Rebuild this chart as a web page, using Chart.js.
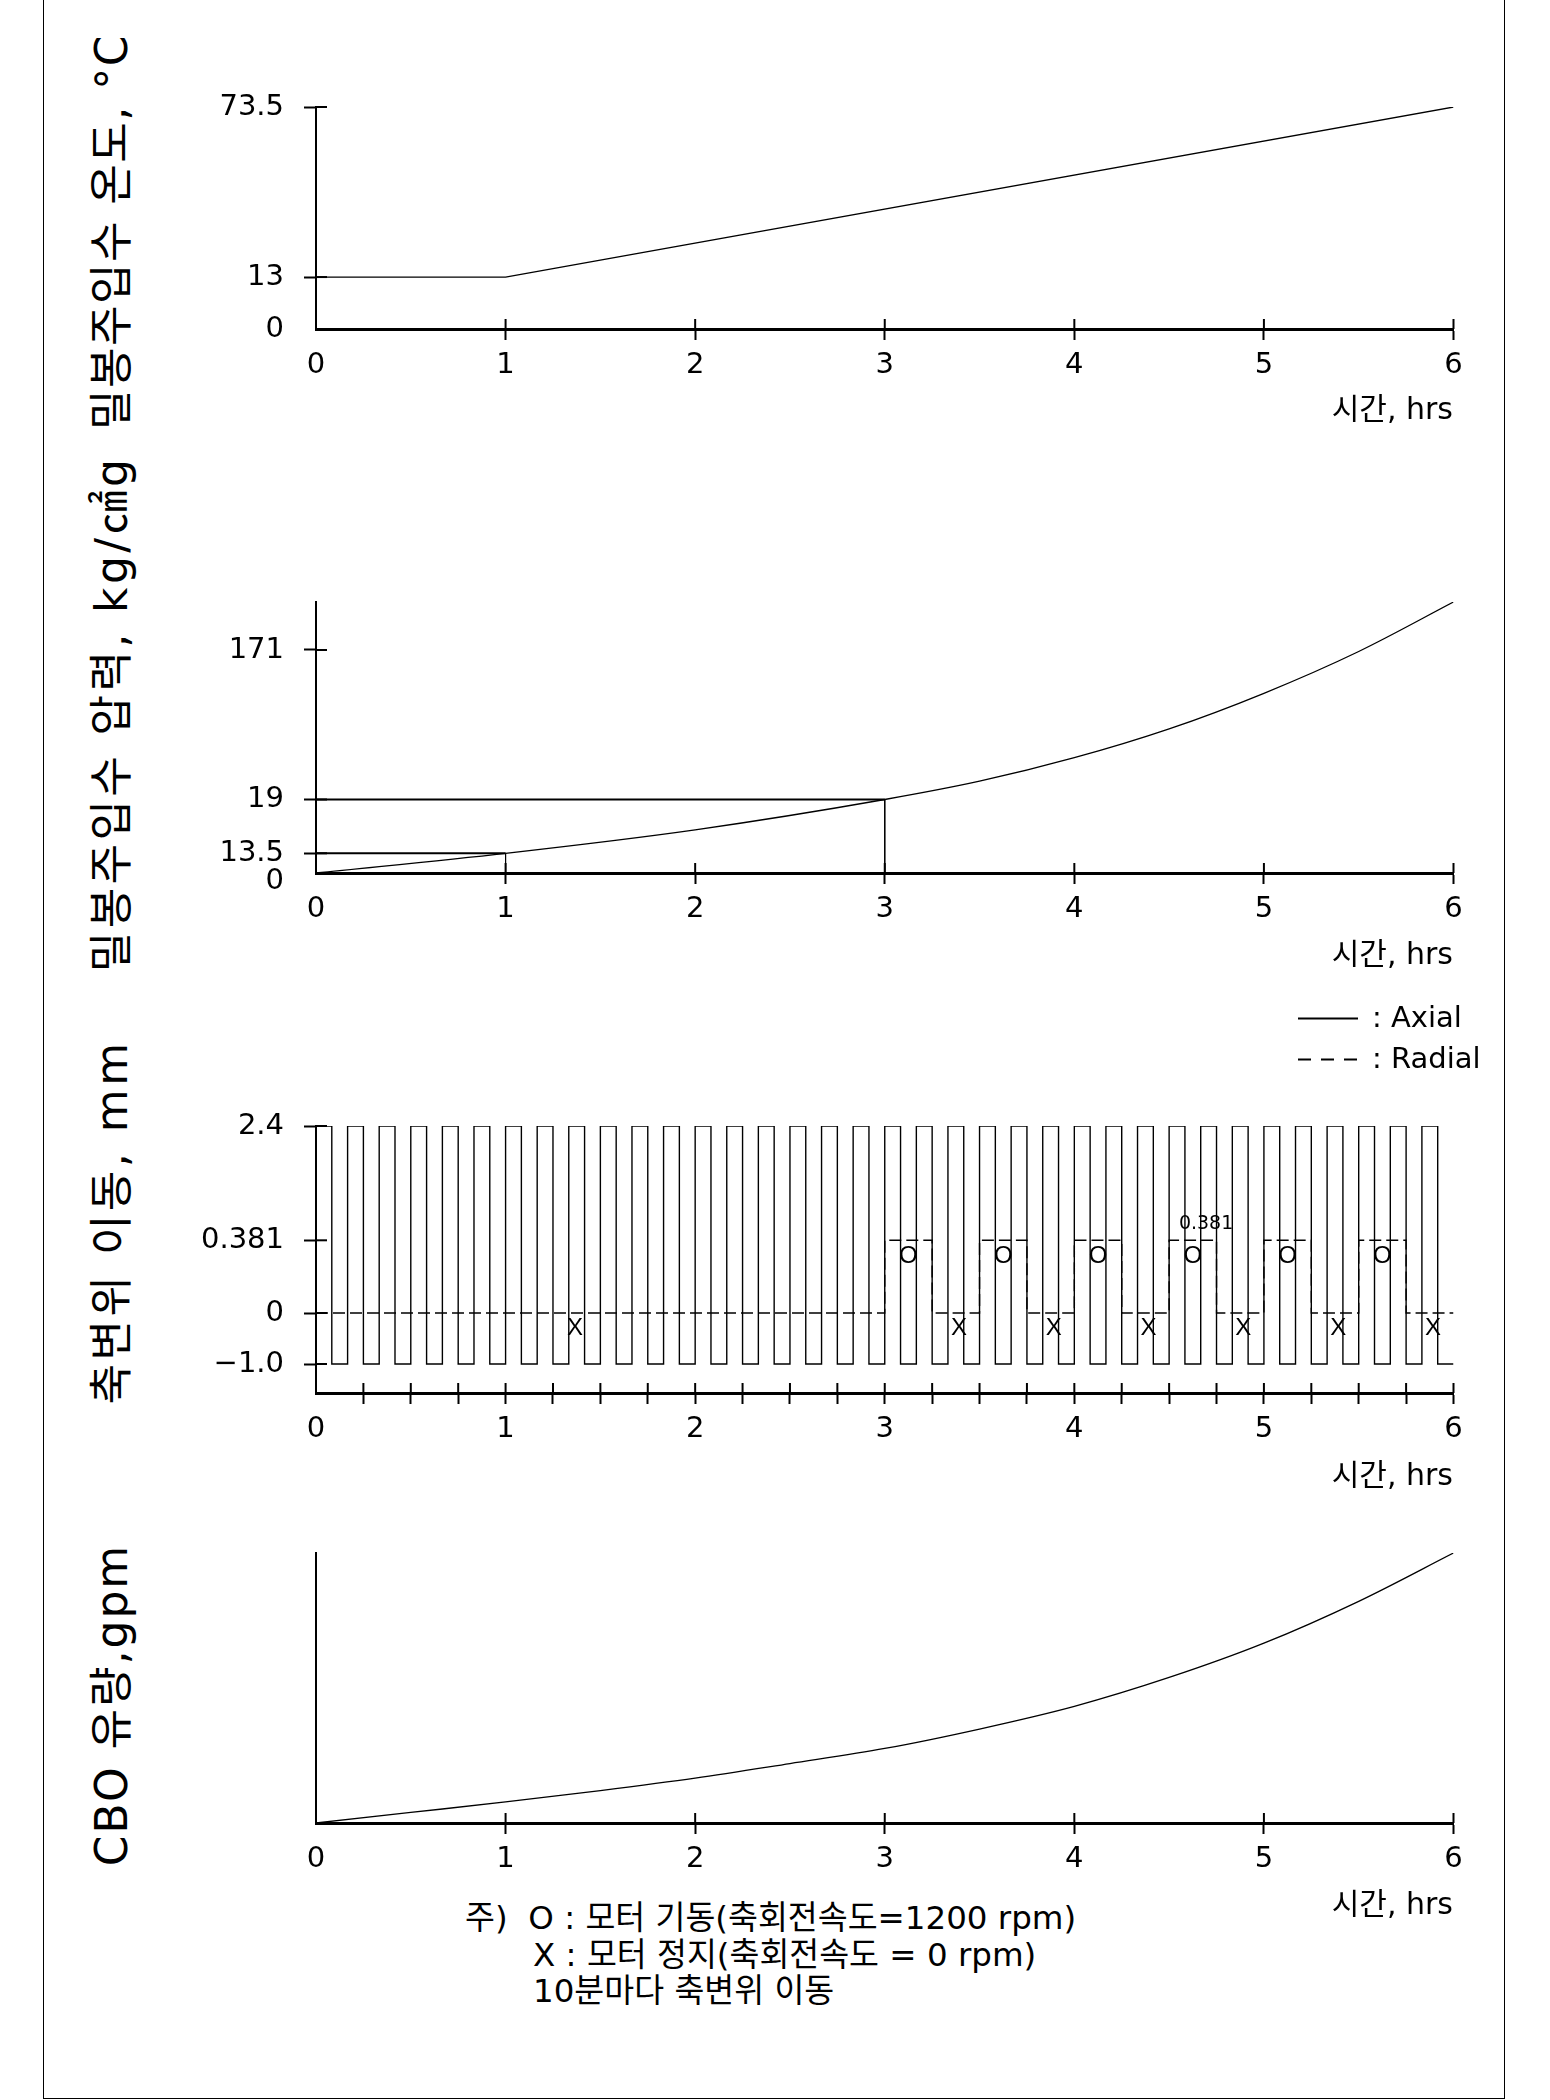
<!DOCTYPE html>
<html lang="ko">
<head>
<meta charset="utf-8">
<title>밀봉주입수 운전 조건</title>
<script src="https://cdn.jsdelivr.net/npm/chart.js@4.4.1/dist/chart.umd.min.js"></script>
<style>
  html, body { margin: 0; padding: 0; background: #fff; }
  #page { position: relative; width: 1550px; height: 2100px; overflow: hidden; color: #000;
          font-family: "DejaVu Sans", "Noto Sans CJK KR", sans-serif; }
  #frame { position: absolute; left: 43px; top: -4px; width: 1462px; height: 2103px;
           border: 1.5px solid #000; box-sizing: border-box; }
  canvas { position: absolute; left: 0; }
  .ytitle { position: absolute; font-size: 44px; letter-spacing: 3px; line-height: 1; white-space: nowrap;
            transform: translate(-50%, -50%) rotate(-90deg); }
  .xtitle { position: absolute; right: 97px; font-size: 30px; line-height: 1; white-space: nowrap;
            transform: translateY(-50%); }
  .legend { position: absolute; left: 1298px; font-size: 29px; line-height: 1; white-space: nowrap;
            transform: translateY(-50%); }
  .legend i { display: inline-block; width: 60px; height: 1.5px; vertical-align: middle; margin-right: 14px; }
  .note { position: absolute; font-size: 32.5px; line-height: 1; white-space: nowrap; transform: translateY(-50%); }
</style>
</head>
<body>
<div id="page">
  <div id="frame"></div>

  <div class="ytitle" style="left:112px;top:232px;letter-spacing:1.5px">밀봉주입수 온도, °C</div>
  <div class="ytitle" style="left:112px;top:714px;letter-spacing:3.4px">밀봉주입수 압력, kg/㎠g</div>
  <div class="ytitle" style="left:112px;top:1222px;letter-spacing:3.5px">축변위 이동, mm</div>
  <div class="ytitle" style="left:112px;top:1705px;letter-spacing:2px">CBO 유량,gpm</div>

  <canvas id="cTemp"></canvas>
  <canvas id="cPres"></canvas>
  <canvas id="cDisp"></canvas>
  <canvas id="cFlow"></canvas>

  <div class="xtitle" style="top:409px">시간, hrs</div>
  <div class="xtitle" style="top:954px">시간, hrs</div>
  <div class="xtitle" style="top:1475px">시간, hrs</div>
  <div class="xtitle" style="top:1904px">시간, hrs</div>

  <div class="legend" style="top:1017px"><i style="background:#000"></i>: Axial</div>
  <div class="legend" style="top:1058px"><i style="background:repeating-linear-gradient(90deg,#000 0 13px,transparent 13px 23px)"></i>: Radial</div>

  <div class="note" style="left:465px;top:1918px">주)&nbsp;&nbsp;O : 모터 기동(축회전속도=1200 rpm)</div>
  <div class="note" style="left:533px;top:1955px">X : 모터 정지(축회전속도 = 0 rpm)</div>
  <div class="note" style="left:533px;top:1991px">10분마다 축변위 이동</div>
</div>

<script>
(function () {
  "use strict";

  // 밀봉주입수 온도 (degC)
  var tempHours = [0, 1, 6];
  var tempValues = [13, 13, 73.5];
  var tempTickValues = [0, 13, 73.5];
  var tempTickLabels = ["0", "13", "73.5"];

  // 밀봉주입수 압력 (kg/cm2g)
  var presHours = [0, 1, 2, 3, 3.5, 4, 4.5, 5, 5.5, 6];
  var presValues = [0, 13.5, 15.9, 19, 37.6, 61.5, 90.8, 127, 169.5, 220];
  var presTickValues = [0, 13.5, 19, 171];
  var presTickLabels = ["0", "13.5", "19", "171"];
  var presMarkHours = [1, 3];
  var presMarkValues = [13.5, 19];

  // 축변위 (mm), time in minutes
  var axialMinutes = [
    0, 5, 10, 15, 20, 25, 30, 35, 40, 45, 50, 55,
    60, 65, 70, 75, 80, 85, 90, 95, 100, 105, 110, 115,
    120, 125, 130, 135, 140, 145, 150, 155, 160, 165, 170, 175,
    180, 185, 190, 195, 200, 205, 210, 215, 220, 225, 230, 235,
    240, 245, 250, 255, 260, 265, 270, 275, 280, 285, 290, 295,
    300, 305, 310, 315, 320, 325, 330, 335, 340, 345, 350, 355,
    360
  ];
  var axialValues = [
    2.4, -1.0, 2.4, -1.0, 2.4, -1.0, 2.4, -1.0, 2.4, -1.0, 2.4, -1.0,
    2.4, -1.0, 2.4, -1.0, 2.4, -1.0, 2.4, -1.0, 2.4, -1.0, 2.4, -1.0,
    2.4, -1.0, 2.4, -1.0, 2.4, -1.0, 2.4, -1.0, 2.4, -1.0, 2.4, -1.0,
    2.4, -1.0, 2.4, -1.0, 2.4, -1.0, 2.4, -1.0, 2.4, -1.0, 2.4, -1.0,
    2.4, -1.0, 2.4, -1.0, 2.4, -1.0, 2.4, -1.0, 2.4, -1.0, 2.4, -1.0,
    2.4, -1.0, 2.4, -1.0, 2.4, -1.0, 2.4, -1.0, 2.4, -1.0, 2.4, -1.0,
    -1.0
  ];
  var radialMinutes = [0, 180, 195, 210, 225, 240, 255, 270, 285, 300, 315, 330, 345, 360];
  var radialValues = [0, 0.381, 0, 0.381, 0, 0.381, 0, 0.381, 0, 0.381, 0, 0.381, 0, 0];
  var motorStartMinutes = [187.5, 217.5, 247.5, 277.5, 307.5, 337.5];
  var motorStopMinutes = [82, 203.5, 233.5, 263.5, 293.5, 323.5, 353.5];
  var dispTickValues = [-1.0, 0, 0.381, 2.4];
  var dispTickLabels = ["\u22121.0", "0", "0.381", "2.4"];
  var radialNoteMinute = 281.7;
  var radialNoteValue = 0.381;

  // CBO 유량 (relative)
  var flowHours = [0, 0.5, 1, 1.5, 2, 2.5, 3, 3.5, 4, 4.5, 5, 5.5, 6];
  var flowValues = [0, 3.9, 7.8, 12.0, 16.6, 22.0, 27.6, 34.8, 43.2, 53.9, 66.6, 82.1, 100];

  // non-uniform value axes: [value, fraction of axis height]
  var BREAKS = {
    cTemp: [[0, 0], [13, 0.234], [73.5, 1]],
    cPres: [[0, 0], [13.5, 0.0727], [19, 0.2712], [171, 0.8229], [220, 1]],
    cDisp: [[-1.575, 0], [-1.0, 0.1086], [0, 0.2996], [0.381, 0.5719], [2.4, 1]]
  };

  class BrokenScale extends Chart.LinearScale {
    _toDecimal(value) {
      var b = BREAKS[this.chart.canvas.id];
      var i = 1;
      while (i < b.length - 1 && value > b[i][0]) i++;
      var a = b[i - 1], c = b[i];
      return a[1] + (value - a[0]) * (c[1] - a[1]) / (c[0] - a[0]);
    }
    getPixelForValue(value) {
      if (value === null || value === undefined || isNaN(value)) return NaN;
      return this.getPixelForDecimal(this._toDecimal(value));
    }
    getValueForPixel(pixel) {
      var b = BREAKS[this.chart.canvas.id];
      var d = this.getDecimalForPixel(pixel);
      var i = 1;
      while (i < b.length - 1 && d > b[i][1]) i++;
      var a = b[i - 1], c = b[i];
      return a[0] + (d - a[1]) * (c[0] - a[0]) / (c[1] - a[1]);
    }
  }
  BrokenScale.id = "broken";
  BrokenScale.defaults = {};
  Chart.register(BrokenScale);

  var FONT = '"DejaVu Sans", "Noto Sans CJK KR", sans-serif';
  Chart.defaults.font.family = FONT;
  Chart.defaults.color = "#000";

  function hideZero(c) {
    return c.tick && c.tick.value === 0 ? "rgba(0,0,0,0)" : "#000";
  }

  // ticks that cross the axis line
  var innerTicks = {
    id: "innerTicks",
    afterDraw: function (chart, args, opts) {
      var ctx = chart.ctx;
      ctx.save();
      ctx.strokeStyle = "#000";
      ctx.lineWidth = 2;
      ["x", "y"].forEach(function (id) {
        var s = chart.scales[id];
        var len = opts[id] || 0;
        var skip = (opts.skip && opts.skip[id]) || [];
        if (!len) return;
        s.ticks.forEach(function (t, i) {
          if (skip.indexOf(t.value) >= 0) return;
          var p = s.getPixelForTick(i);
          ctx.beginPath();
          if (id === "x") { ctx.moveTo(p, s.top); ctx.lineTo(p, s.top - len); }
          else { ctx.moveTo(s.right, p); ctx.lineTo(s.right + len, p); }
          ctx.stroke();
        });
      });
      ctx.restore();
    }
  };

  // O / X marks and small value note drawn at data positions
  var textMarks = {
    id: "textMarks",
    afterDatasetsDraw: function (chart, args, opts) {
      var items = opts.items;
      if (!items || !items.length) return;
      var ctx = chart.ctx, xs = chart.scales.x, ys = chart.scales.y;
      ctx.save();
      ctx.fillStyle = "#000";
      ctx.textAlign = "center";
      ctx.textBaseline = "middle";
      for (var i = 0; i < items.length; i++) {
        var m = items[i];
        ctx.font = m.font;
        ctx.fillText(m.text, xs.getPixelForValue(m.x), ys.getPixelForValue(m.y) + m.dy);
      }
      ctx.restore();
    }
  };

  function pts(xs, ys, div) {
    return xs.map(function (x, i) { return { x: x / (div || 1), y: ys[i] }; });
  }

  function line(data, extra) {
    var d = { data: data, borderColor: "#000", borderWidth: 1.3, pointRadius: 0, fill: false, tension: 0 };
    for (var k in extra) d[k] = extra[k];
    return d;
  }

  function xScale(step) {
    return {
      type: "linear", min: 0, max: 6,
      afterFit: function (s) { s.height = 70; },
      ticks: {
        stepSize: step, autoSkip: false, maxRotation: 0, minRotation: 0, padding: 8,
        font: { size: 29 }, color: "#000",
        callback: function (v) { return Number.isInteger(v) ? String(v) : ""; }
      },
      grid: { drawOnChartArea: false, tickLength: 11, tickWidth: 2, tickColor: hideZero },
      border: { display: true, color: "#000", width: 3 }
    };
  }

  // lowZero: push the "0" label a little below the axis (as in the pressure plot)
  function yScale(id, tickValues, tickLabels, hideZeroTick, lowZero) {
    var b = BREAKS[id];
    return {
      type: "broken", min: b[0][0], max: b[b.length - 1][0],
      afterFit: function (s) { s.width = 316; },
      afterBuildTicks: function (s) {
        s.ticks = tickValues.map(function (v) { return { value: v }; });
      },
      ticks: {
        autoSkip: false, padding: 20, color: "#000",
        font: function (c) {
          if (lowZero && c.tick && c.tick.value === 0) return { size: 29, lineHeight: "16px" };
          return { size: 29 };
        },
        callback: function (v, i) {
          return lowZero && v === 0 ? ["", tickLabels[i]] : tickLabels[i];
        }
      },
      grid: { drawOnChartArea: false, tickLength: 12, tickWidth: 2, tickColor: hideZeroTick ? hideZero : "#000" },
      border: { display: true, color: "#000", width: 2 }
    };
  }

  function make(id, areaTop, areaBottom, datasets, x, y, inner, marks) {
    var c = document.getElementById(id);
    c.width = 1550;
    c.height = areaBottom - areaTop + 120;
    c.style.width = "1550px";
    c.style.height = c.height + "px";
    c.style.top = (areaTop - 50) + "px";
    return new Chart(c.getContext("2d"), {
      type: "line",
      data: { datasets: datasets },
      options: {
        responsive: false,
        animation: false,
        events: [],
        layout: { padding: { top: 50, right: 96.5, bottom: 0, left: 0 } },
        scales: { x: x, y: y },
        plugins: {
          legend: { display: false },
          tooltip: { enabled: false },
          innerTicks: inner,
          textMarks: { items: marks || [] }
        }
      },
      plugins: [innerTicks, textMarks]
    });
  }

  // 1) temperature
  make("cTemp", 107, 329,
    [line(pts(tempHours, tempValues))],
    xScale(1), yScale("cTemp", tempTickValues, tempTickLabels, true, false),
    { x: 10, y: 11, skip: { x: [0], y: [0] } });

  // 2) pressure with guide lines
  var presSets = [line(pts(presHours, presValues), { cubicInterpolationMode: "monotone" })];
  presMarkHours.forEach(function (h, i) {
    var v = presMarkValues[i];
    presSets.push(line(pts([0, h], [v, v]), { borderWidth: 2 }));
    presSets.push(line(pts([h, h], [v, 0]), { borderWidth: 1 }));
  });
  make("cPres", 602, 873, presSets,
    xScale(1), yScale("cPres", presTickValues, presTickLabels, true, true),
    { x: 10, y: 11, skip: { x: [0], y: [0] } });

  // 3) shaft displacement
  var dispMarks = [];
  motorStartMinutes.forEach(function (m) {
    dispMarks.push({ text: "O", x: m / 60, y: 0.381, dy: 16, font: "24px 'Liberation Sans'" });
  });
  motorStopMinutes.forEach(function (m) {
    dispMarks.push({ text: "X", x: m / 60, y: 0, dy: 15, font: "24px 'Liberation Sans'" });
  });
  dispMarks.push({ text: "0.381", x: radialNoteMinute / 60, y: radialNoteValue, dy: -16, font: "19px 'DejaVu Sans'" });
  make("cDisp", 1126, 1393,
    [
      line(pts(axialMinutes, axialValues, 60), { stepped: true, borderWidth: 1.4 }),
      line(pts(radialMinutes, radialValues, 60), { stepped: true, borderWidth: 1.4, borderDash: [12, 5] })
    ],
    xScale(0.25), yScale("cDisp", dispTickValues, dispTickLabels, false, false),
    { x: 10, y: 11, skip: { x: [0], y: [] } }, dispMarks);

  // 4) CBO flow
  var flowY = {
    type: "linear", min: 0, max: 100,
    afterFit: function (s) { s.width = 316; },
    ticks: { display: false },
    grid: { drawOnChartArea: false, drawTicks: false },
    border: { display: true, color: "#000", width: 2 }
  };
  make("cFlow", 1553, 1823,
    [line(pts(flowHours, flowValues), { cubicInterpolationMode: "monotone" })],
    xScale(1), flowY,
    { x: 10, y: 0, skip: { x: [0] } });
})();
</script>
</body>
</html>
